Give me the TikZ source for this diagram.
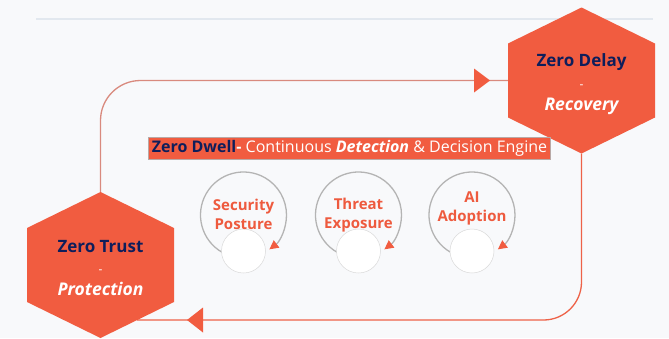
\documentclass[tikz,border=0pt]{standalone}
\usepackage{fontspec}
\setmainfont{Open Sans}
\usetikzlibrary{arrows.meta}
\definecolor{bg}{HTML}{F8F9FB}
\definecolor{coral}{HTML}{F15C40}
\definecolor{navy}{HTML}{0E1E5B}
\definecolor{rulec}{HTML}{E2E8EF}
\definecolor{topline}{HTML}{D98A7E}
\definecolor{botline}{HTML}{EE6248}
\definecolor{ring}{HTML}{B4B4B4}
\definecolor{ringtxt}{HTML}{EE5A3E}
\definecolor{bannerline}{HTML}{B9A9A6}
\tikzset{
  loopline/.style={line width=1.3pt},
  hexfill/.style={fill=coral},
  hextitle/.style={anchor=base, text=navy, font=\fontsize{17}{20}\selectfont\bfseries, inner sep=0},
  hexdash/.style={anchor=base, text=white, font=\fontsize{12}{14}\selectfont, inner sep=0},
  hexsub/.style={anchor=base, text=white, font=\fontsize{17.5}{20}\selectfont\bfseries\itshape, inner sep=0},
  ringarc/.style={draw=ring, line width=1.3pt, -{Triangle[color=coral,length=9pt,width=9pt]}},
  smallring/.style={circle, fill=white, draw=black!15, line width=0.5pt, minimum size=44pt, inner sep=0},
  ringlabel/.style={align=center, text=ringtxt, font=\fontsize{15}{19}\selectfont\bfseries, inner sep=0},
}
\begin{document}
\begin{tikzpicture}[x=1pt,y=-1pt]
\useasboundingbox (0,0) rectangle (669,338);
\fill[bg] (0,0) rectangle (669,338);
\draw[rulec, line width=1.5pt] (36,19) -- (653,19);

% key points
\coordinate (zd) at (581.5,80.5);
\coordinate (zt) at (100.5,265);
\coordinate (zdW) at (508,80.5);
\coordinate (zdS) at (581.5,153.5);
\coordinate (ztN) at (100.5,192);
\coordinate (ztSE) at (137,320);

% connectors
\draw[topline, loopline, rounded corners=40pt] (ztN) |- (zdW);
\draw[botline, loopline, rounded corners=38pt] (zdS) |- (ztSE);
\fill[coral] (490,80.5) -- (474,68.5) -- (474,92.5) -- cycle;
\fill[coral] (187,320) -- (203,307.5) -- (203,332.5) -- cycle;

% hexagons
\fill[hexfill] (zd) ++(0,-73) -- ++(73.5,36) -- ++(0,74) -- ++(-73.5,36) -- ++(-73.5,-36) -- ++(0,-74) -- cycle;
\fill[hexfill] (zt) ++(0,-73) -- ++(73.5,36) -- ++(0,74) -- ++(-73.5,36) -- ++(-73.5,-36) -- ++(0,-74) -- cycle;

\node[hextitle] (zdA) at (581.5,66) {Zero Delay};
\node[hexdash] (zdB) at (581.5,88) {-};
\node[hexsub] (zdC) at (581.5,110) {Recovery};

\node[hextitle] (ztA) at (100.5,252) {Zero Trust};
\node[hexdash] (ztB) at (100.5,273) {-};
\node[hexsub] (ztC) at (100.5,295) {Protection};

% banner
\node[fill=coral, draw=bannerline, line width=0.6pt, minimum width=402pt, minimum height=22pt, inner sep=0] (banner) at (349,148) {};
\node[text=white, font=\fontsize{16}{18}\selectfont, inner sep=0] (bannertext) at (349.5,148)
  {{\color{navy}\bfseries Zero Dwell}{\bfseries -} Continuous {\bfseries\itshape Detection} \& Decision Engine};

% rings
\foreach \cx/\nm/\ty/\txt in {243.5/sp/214/{Security\\Posture}, 358.5/te/215/{Threat\\Exposure}, 472/ai/208/{AI\\Adoption}} {
  \draw[ringarc] (\cx,215) ++(120:43) arc[start angle=120, end angle=413, radius=43];
  \node[smallring] (\nm small) at (\cx,251) {};
  \node[ringlabel] (\nm) at (\cx,\ty) {\txt};
}
\end{tikzpicture}
\end{document}
